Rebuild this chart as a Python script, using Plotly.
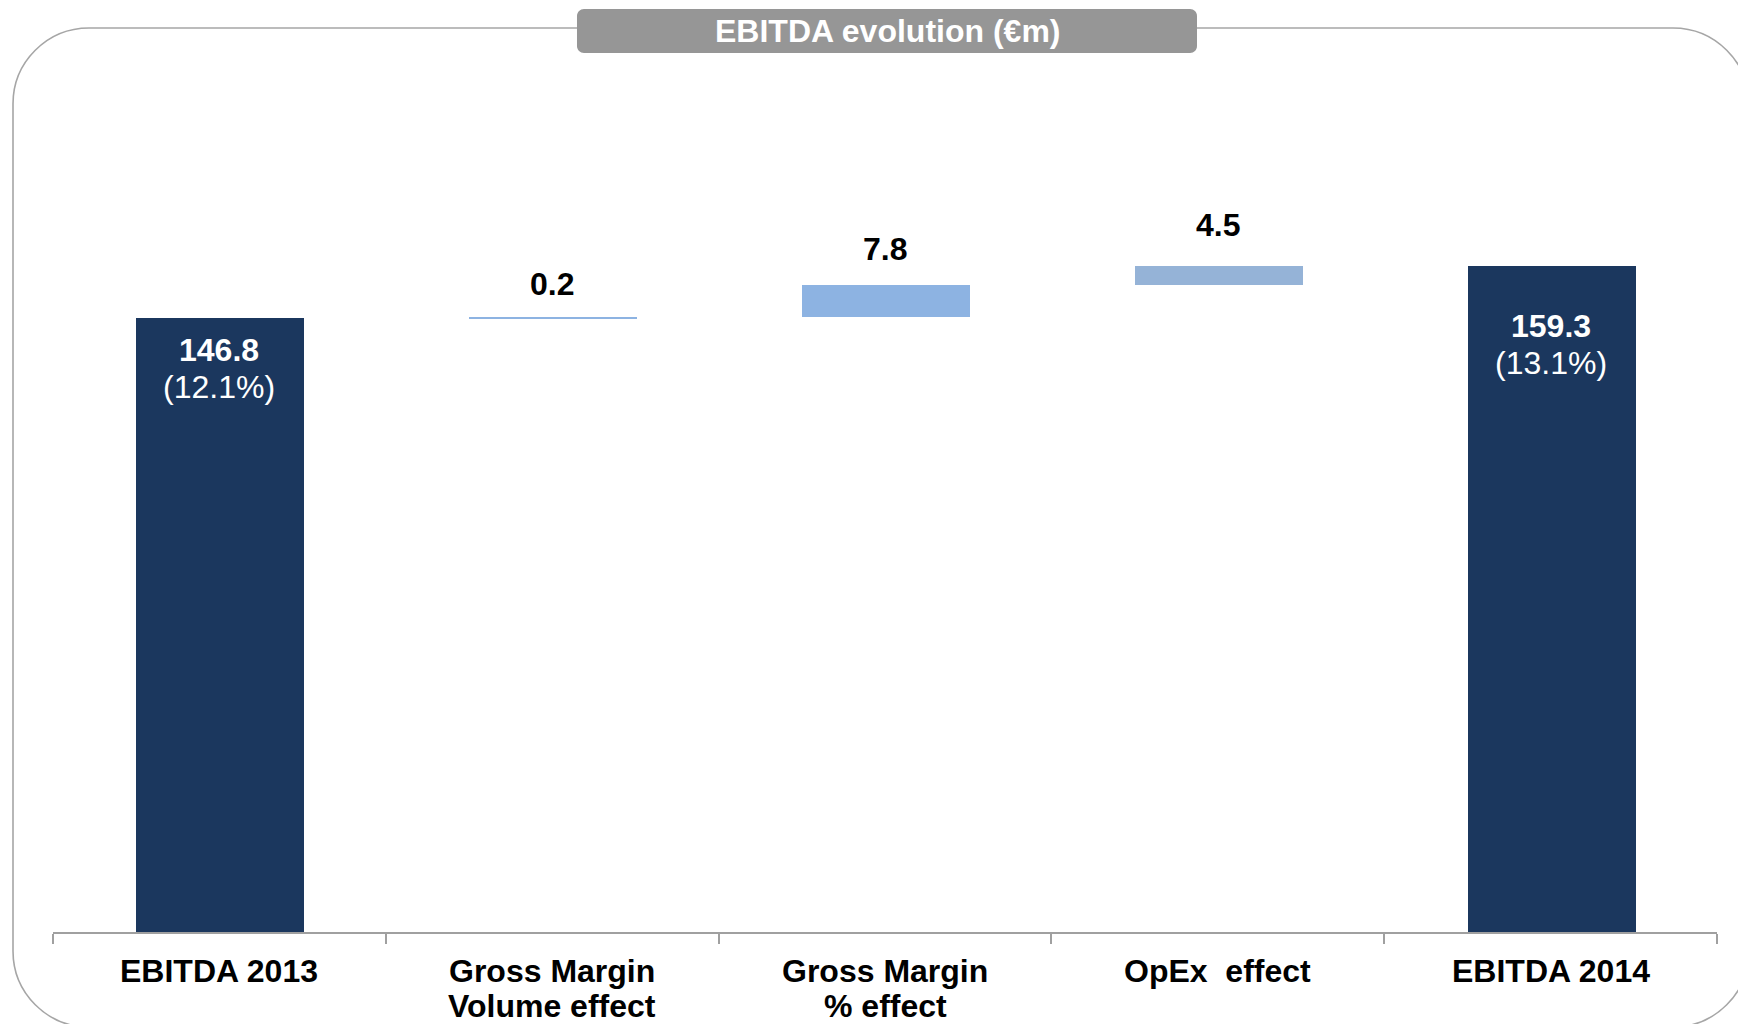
import plotly.graph_objects as go

# ---- data -------------------------------------------------------------
categories = ["EBITDA 2013", "Gross Margin<br>Volume effect", "Gross Margin<br>% effect",
              "OpEx\u00a0 effect", "EBITDA 2014"]
start_value = 146.8
effects = [0.2, 7.8, 4.5]
end_value = 159.3
ebitda_margins = ["12.1%", "13.1%"]
title_text = "EBITDA evolution (€m)"

# ---- styling ----------------------------------------------------------
FONT = "Liberation Sans, Arial, sans-serif"
NAVY = "#1b375e"
EFFECT_COLORS = ["#8db3e2", "#8db3e2", "#95b3d7"]
FRAME_GREY = "#a6a6a6"
TITLE_GREY = "#969696"

W, H = 1738, 1024
ML, MR, MT, MB = 53, 21, 120, 92
PLOT_W = W - ML - MR
PLOT_H = H - MT - MB
Y_MAX = 194.2
BAR_WIDTH = 0.505


def px_x(px):
    return (px - ML) / PLOT_W


def px_y(py):
    return (H - MB - py) / PLOT_H


def rounded_rect(x0, y0, x1, y1, r):
    k = 0.5523 * r
    pts = [
        ("M", [(x0 + r, y0)]),
        ("L", [(x1 - r, y0)]),
        ("C", [(x1 - r + k, y0), (x1, y0 + r - k), (x1, y0 + r)]),
        ("L", [(x1, y1 - r)]),
        ("C", [(x1, y1 - r + k), (x1 - r + k, y1), (x1 - r, y1)]),
        ("L", [(x0 + r, y1)]),
        ("C", [(x0 + r - k, y1), (x0, y1 - r + k), (x0, y1 - r)]),
        ("L", [(x0, y0 + r)]),
        ("C", [(x0, y0 + r - k), (x0 + r - k, y0), (x0 + r, y0)]),
    ]
    out = []
    for cmd, coords in pts:
        out.append(cmd + " " + " ".join(f"{px_x(a):.5f},{px_y(b):.5f}" for a, b in coords))
    return " ".join(out) + " Z"


# ---- waterfall geometry from the values --------------------------------
values = [start_value] + effects + [end_value]
bases = [0.0]
running = start_value
for e in effects:
    bases.append(running)
    running += e
bases.append(0.0)
colors = [NAVY] + EFFECT_COLORS + [NAVY]
xs = list(range(len(categories)))

fig = go.Figure()
fig.add_trace(go.Bar(
    x=xs, y=values, base=bases, width=BAR_WIDTH, offset=-BAR_WIDTH / 2 + 0.003,
    marker=dict(color=colors, line=dict(width=0)),
    hoverinfo="skip", showlegend=False,
))

annotations = []

# effect values above the light bars
effect_lift = [33, 36, 41]
for i, e in enumerate(effects, start=1):
    annotations.append(dict(
        x=xs[i], y=bases[i] + e, xref="x", yref="y",
        text=f"{e:.1f}", showarrow=False, yanchor="middle", yshift=effect_lift[i - 1],
        font=dict(family=FONT, size=32, color="#000000", weight="bold"),
    ))

# totals inside the dark bars
total_idx = [0, len(categories) - 1]
total_drop = [32, 60]
for j, i in enumerate(total_idx):
    top = bases[i] + values[i]
    annotations.append(dict(
        x=xs[i], y=top, xref="x", yref="y",
        text=f"{values[i]:.1f}", showarrow=False, yanchor="middle", yshift=-total_drop[j],
        font=dict(family=FONT, size=32, color="#ffffff", weight="bold"),
    ))
    annotations.append(dict(
        x=xs[i], y=top, xref="x", yref="y",
        text=f"({ebitda_margins[j]})", showarrow=False, yanchor="middle",
        yshift=-total_drop[j] - 37,
        font=dict(family=FONT, size=32, color="#ffffff"),
    ))

# category labels under the axis
for i, cat in enumerate(categories):
    for ln, line in enumerate(cat.split("<br>")):
        annotations.append(dict(
            x=xs[i], y=0, xref="x", yref="paper",
            text=line, showarrow=False, yanchor="middle", yshift=-38.5 - 35.5 * ln,
            font=dict(family=FONT, size=32, color="#000000", weight="bold"),
        ))

# title inside the grey tab
annotations.append(dict(
    x=px_x(887), y=px_y(31), xref="paper", yref="paper",
    text=title_text, showarrow=False, xanchor="center", yanchor="middle",
    font=dict(family=FONT, size=32, color="#ffffff", weight="bold"),
))

shapes = [
    dict(type="path", xref="paper", yref="paper", layer="below",
         path=rounded_rect(13, 28, 1749, 1027, 76),
         line=dict(color=FRAME_GREY, width=1.6), fillcolor="rgba(0,0,0,0)"),
    dict(type="path", xref="paper", yref="paper", layer="above",
         path=rounded_rect(577, 9, 1197, 53, 7),
         line=dict(width=0), fillcolor=TITLE_GREY),
]

fig.update_layout(
    width=W, height=H,
    margin=dict(l=ML, r=MR, t=MT, b=MB, pad=0),
    paper_bgcolor="#ffffff", plot_bgcolor="#ffffff",
    font=dict(family=FONT),
    annotations=annotations, shapes=shapes,
    bargap=0,
)
fig.update_xaxes(
    range=[-0.5, len(categories) - 0.5],
    tickvals=[i - 0.5 for i in range(len(categories) + 1)],
    showticklabels=False, ticks="outside", ticklen=10, tickwidth=1.5, tickcolor="#a0a0a0",
    showline=True, linecolor="#a0a0a0", linewidth=1.5,
    showgrid=False, zeroline=False, fixedrange=True,
)
fig.update_yaxes(range=[0, Y_MAX], visible=False, showgrid=False, zeroline=False, fixedrange=True)

fig.write_html("out.html", config={"displayModeBar": False})
